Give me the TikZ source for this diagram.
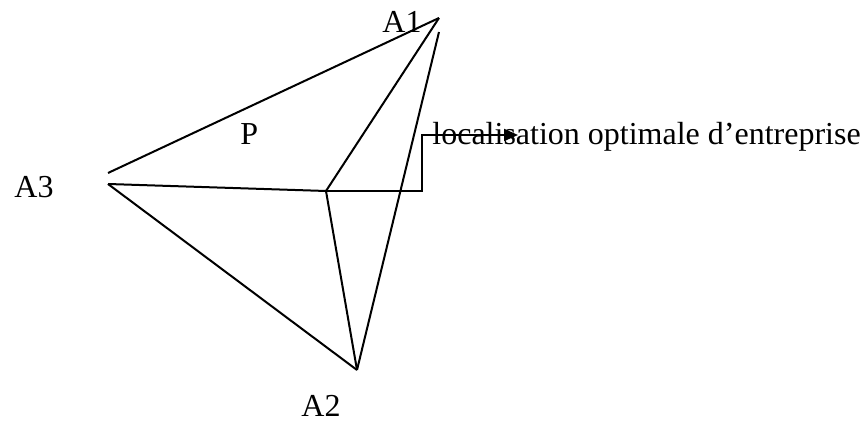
\documentclass[tikz,border=0pt]{standalone}
\usepackage{fontspec}
\setmainfont{Liberation Serif}
\usetikzlibrary{arrows.meta}

\begin{document}
\begin{tikzpicture}[
x=0.5pt, y=-0.5pt,
edge/.style={line width=1pt},
arrow/.style={-{Triangle[length=7pt, width=6pt]}, line width=1pt},
lab/.style={anchor=base west, inner sep=0pt, font=\fontsize{16}{19}\selectfont}
]
\useasboundingbox (0,0) rectangle (864,421);

% vertices
\coordinate (A1) at (439,18);
\coordinate (A1b) at (439,32);
\coordinate (A3) at (108,184);
\coordinate (A3b) at (108,173);
\coordinate (A2) at (357,370);
\coordinate (P) at (326,191);
\coordinate (corner) at (422,191);
\coordinate (tip) at (518,135);

% labels
\node[lab] (labA1) at (382,33) {A1};
\node[lab] (labA3) at (14,198) {A3};
\node[lab] (labA2) at (301,417) {A2};
\node[lab] (labP) at (240,145) {P};
\node[lab] (loc) at (432,145) {localisation optimale d’entreprise};

% triangle and lines to P
\draw[edge] (A3b) -- (A1);
\draw[edge] (A1) -- (P);
\draw[edge] (A1b) -- (A2);
\draw[edge] (A3) -- (P);
\draw[edge] (A3) -- (A2);
\draw[edge] (P) -- (A2);
\draw[arrow] (P) -- (corner) |- (tip);
\end{tikzpicture}
\end{document}
